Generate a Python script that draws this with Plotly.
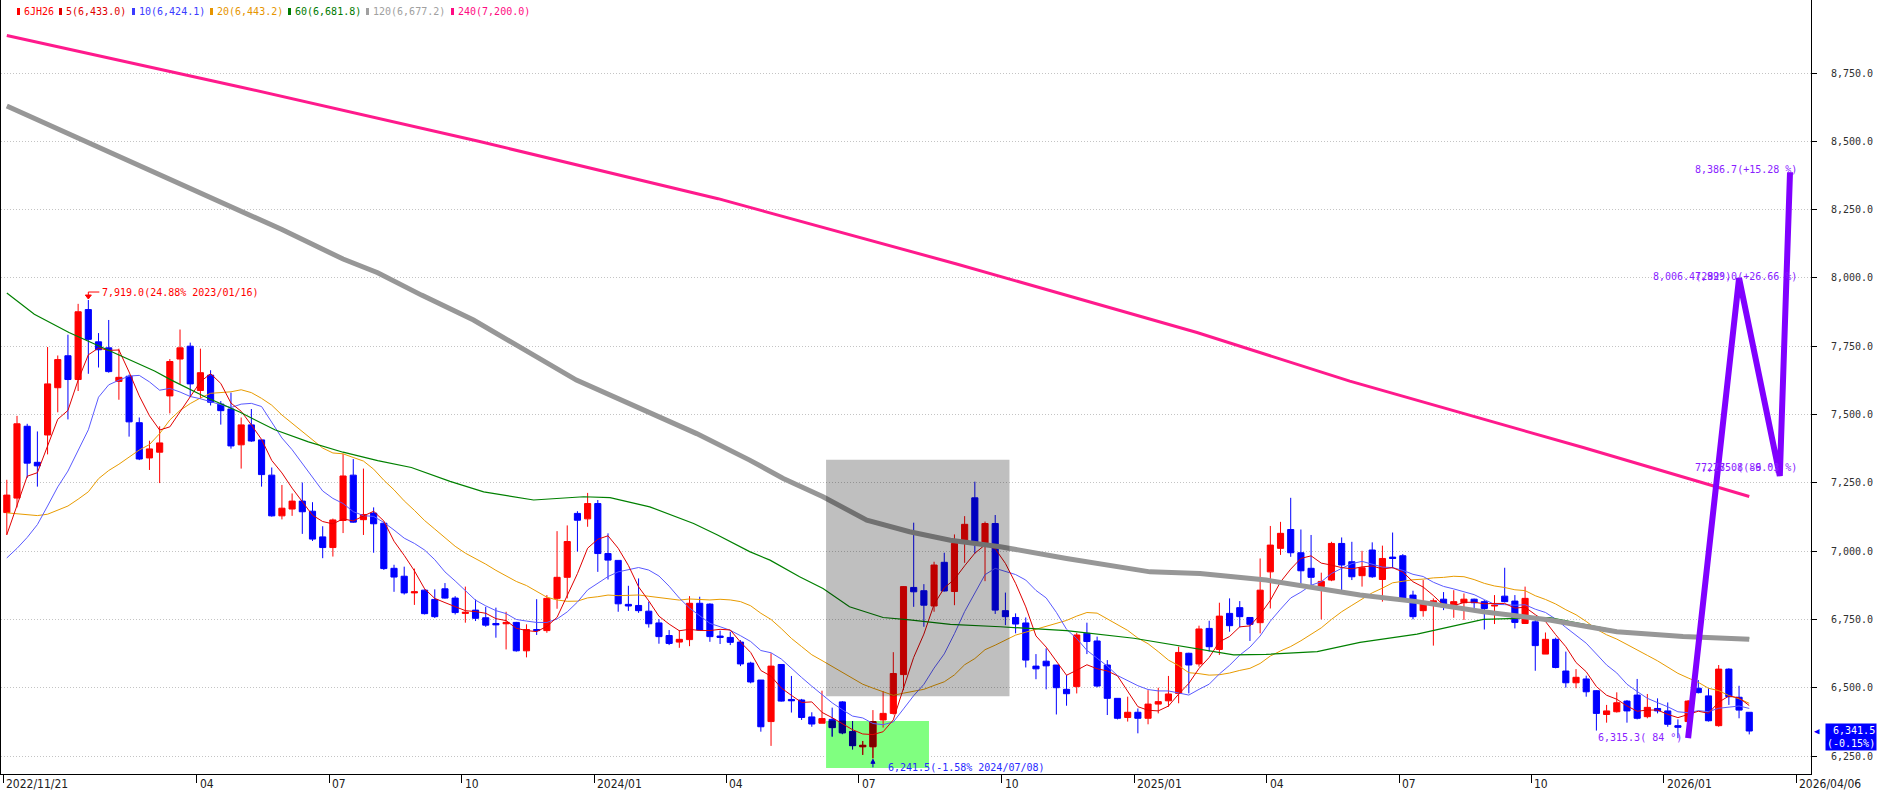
import plotly.graph_objects as go
import pandas as pd

START = pd.Timestamp("2022-11-21")

opens = [7141,7194,7457,7325,7425,7598,7715,7628,7884,7766, 7744,7621,7640,7470,7341,7362,7568,7703,7750,7588,
         7644,7538,7520,7389,7462,7407,7278,7129,7154,7183, 7146,7052,7013,7112,7278,7115,7139,7102,6937,6908,
         6847,6857,6823,6862,6828,6772,6784,6756,6735,6734, 6739,6635,6713,6709,6827,6904,7138,7118,7174,6991,
         6966,6805,6801,6780,6737,6691,6667,6676,6809,6806, 6689,6684,6667,6590,6528,6376,6585,6457,6455,6393,
         6370,6384,6448,6339,6284,6284,6382,6406,6548,6867, 6855,6799,6959,6852,7028,7195,7028,7101,6782,6757,
         6737,6579,6597,6583,6494,6504,6699,6671,6583,6461, 6391,6410,6388,6440,6452,6479,6626,6587,6717,6640,
         6772,6793,6757,6738,6924,7010,7079,6994,6937,6870, 6894,7028,6961,6910,7004,6896,6978,6983,6839,6782,
         6809,6824,6794,6811,6824,6815,6799,6835,6817,6735, 6741,6623,6677,6561,6518,6532,6489,6402,6412,6451,
         6473,6394,6424,6415,6361,6376,6498,6470,6361,6568, 6465,6410]
highs = [7261,7495,7466,7438,7747,7716,7792,7905,7919,7798, 7846,7741,7646,7489,7404,7457,7703,7811,7763,7741,
         7662,7549,7580,7489,7520,7407,7306,7242,7211,7251, 7179,7091,7119,7356,7337,7302,7160,7106,6950,6943,
         6936,6860,6860,6883,6835,6870,6823,6796,6793,6778, 6741,6732,6824,6839,7073,7094,7146,7213,7187,7065,
         6966,6873,6900,6815,6751,6711,6711,6835,6833,6809, 6709,6705,6674,6595,6528,6626,6586,6543,6459,6410,
         6489,6427,6451,6378,6305,6418,6488,6630,6872,7104, 6879,6961,6994,7061,7128,7254,7108,7132,6848,6772,
         6757,6623,6644,6583,6546,6701,6738,6687,6601,6461, 6467,6424,6491,6500,6543,6650,6628,6727,6745,6811,
         6827,6817,6757,6973,7092,7107,7195,7079,7059,6921, 7034,7050,7034,7001,7032,7020,7068,6989,6855,6894,
         6827,6850,6857,6845,6826,6821,6839,6939,6839,6870, 6748,6702,6683,6632,6568,6544,6491,6437,6483,6455,
         6532,6477,6461,6446,6384,6455,6528,6498,6583,6571, 6507,6410]
lows = [7059,7160,7268,7236,7354,7508,7482,7586,7649,7672, 7653,7554,7419,7333,7297,7249,7504,7612,7564,7558,
        7533,7463,7375,7302,7400,7236,7126,7116,7129,7063, 7037,6974,6980,7066,7104,7059,6994,6931,6851,6841,
        6803,6768,6755,6826,6768,6738,6744,6723,6683,6640, 6632,6611,6693,6701,6789,6827,6998,7089,6924,6896,
        6778,6781,6774,6720,6661,6656,6646,6652,6709,6668, 6660,6656,6579,6516,6339,6287,6449,6409,6382,6357,
        6370,6321,6330,6274,6254,6241.5,6354,6402,6491,6796, 6723,6778,6852,6802,6957,6991,6890,6770,6729,6699,
        6574,6531,6494,6402,6434,6479,6623,6501,6400,6384, 6376,6333,6366,6406,6430,6443,6479,6577,6632,6620,
        6705,6721,6671,6699,6790,6986,6979,6879,6870,6750, 6890,6852,6894,6870,6902,6815,6937,6824,6750,6760,
        6654,6784,6756,6748,6781,6713,6733,6812,6717,6733, 6562,6623,6571,6500,6498,6467,6343,6372,6409,6372,
        6384,6388,6406,6357,6315.3,6370,6479,6376,6357,6437, 6388,6329]
closes = [7205,7466,7322,7312,7612,7701,7628,7876,7775,7737, 7657,7636,7473,7337,7374,7396,7694,7744,7612,7653,
          7545,7514,7385,7462,7403,7280,7129,7157,7183,7144, 7044,7013,7114,7275,7106,7134,7100,6936,6905,6847,
          6851,6771,6760,6828,6775,6776,6754,6729,6730,6739, 6635,6713,6709,6827,6904,7035,7113,7174,6991,6967,
          6807,6799,6782,6734,6687,6662,6677,6809,6711,6687, 6684,6666,6587,6521,6357,6579,6451,6452,6391,6367,
          6387,6354,6335,6288,6289,6376,6406,6552,6870,6851, 6802,6949,6854,7028,7098,7032,7101,6784,6760,6733,
          6601,6569,6580,6500,6478,6693,6669,6506,6461,6388, 6410,6388,6440,6449,6477,6629,6583,6715,6650,6762,
          6727,6760,6732,6857,7022,7065,6994,6928,6904,6889, 7028,6949,6906,6939,6906,6973,6973,6827,6760,6809,
          6818,6796,6815,6824,6811,6790,6802,6815,6739,6827, 6654,6677,6574,6518,6538,6485,6406,6415,6445,6415,
          6388,6428,6415,6366,6355,6451,6482,6379,6568,6467, 6418,6341.5]

# moving-average warm-up values (before a full window exists)
ma5_head = [7060, 7167, 7274, 7287]
ma10_head = [6975, 7010, 7050, 7097, 7165, 7235, 7293, 7370, 7444]
ma20_head = [7140, 7136, 7133, 7130, 7135, 7150, 7165, 7190, 7217, 7265, 7295, 7318, 7345, 7370, 7390,
             7430, 7480, 7515, 7540]

# long moving averages (week index, value)
ma60_idx = [0, 2.7, 6.1, 10.4, 14.5, 16.2, 19.5, 22.9, 26.3, 29.6, 33, 36.4, 39.7, 43.5, 46.8, 51.7, 56.6,
            59.2, 63.1, 67.4, 69.7, 72.9, 74.9, 77.8, 80.1, 82.7, 86.0, 88.6, 92.6, 97.5, 104.0, 110.6,
            115.5, 120.4, 123.6, 128.6, 132.8, 138.4, 144.9, 151.4, 158, 164.5, 171]
ma60_val = [7945, 7867, 7800, 7728, 7659, 7625, 7564, 7508, 7444, 7400, 7362, 7331, 7306, 7255, 7217, 7187,
            7199, 7196, 7162, 7101, 7060, 6998, 6967, 6906, 6863, 6796, 6757, 6748, 6732, 6723, 6709, 6681,
            6650, 6620, 6622, 6632, 6666, 6696, 6750, 6757, 6709, 6689, 6681.8]
ma120_idx = [0, 13, 27, 33, 36.4, 40.7, 45.8, 55.9, 63.8, 67.7, 72.9, 76.2, 80.1, 84.4, 88.6, 92.6, 97.5,
             104, 112.2, 117.1, 123.6, 132.8, 138.4, 144.9, 151.4, 158, 164.5, 171]
ma120_val = [8629, 8410, 8177, 8069, 8019, 7937, 7846, 7626, 7498, 7430, 7333, 7266, 7199, 7113, 7071, 7040,
             7016, 6973, 6924, 6918, 6894, 6839, 6815, 6778, 6748, 6705, 6687, 6677.2]
ma240_idx = [0, 22.8, 46.3, 69.8, 93.3, 116.8, 131.8, 154.7, 171]
ma240_val = [8887, 8700, 8500, 8290, 8050, 7800, 7622, 7379, 7200.0]

# purple drawn zig-zag (week index, value)
zz_idx = [165, 170, 174, 175]
zz_val = [6315.3, 7999.0, 7275.1, 8386.7]

tick_dates = ["2022-11-21", "2023-04-03", "2023-07-03", "2023-10-02", "2024-01-01", "2024-04-01",
              "2024-07-01", "2024-10-07", "2025-01-06", "2025-04-07", "2025-07-07", "2025-10-06",
              "2026-01-05", "2026-04-06"]
tick_text = ["2022/11/21", "04", "07", "10", "2024/01", "04", "07", "10", "2025/01", "04", "07", "10",
             "2026/01", "2026/04/06"]
y_ticks = [6250, 6500, 6750, 7000, 7250, 7500, 7750, 8000, 8250, 8500, 8750]

legend_items = [("6JH26", "#FF0000"), ("5(6,433.0)", "#E00000"), ("10(6,424.1)", "#3B3BFF"),
                ("20(6,443.2)", "#E69500"), ("60(6,681.8)", "#007A00"), ("120(6,677.2)", "#A0A0A0"),
                ("240(7,200.0)", "#FF0A82")]
legend_x = [17, 59, 132, 210, 288, 366, 451]

MONO = "DejaVu Sans Mono"


def wk(i):
    return START + pd.Timedelta(days=7 * i)


dates = [wk(i) for i in range(len(closes))]
cs = pd.Series(closes)
ma5 = cs.rolling(5).mean().tolist()
ma10 = cs.rolling(10).mean().tolist()
ma20 = cs.rolling(20).mean().tolist()
ma5[:len(ma5_head)] = ma5_head
ma10[:len(ma10_head)] = ma10_head
ma20[:len(ma20_head)] = ma20_head

fig = go.Figure()

fig.add_trace(go.Candlestick(
    x=dates, open=opens, high=highs, low=lows, close=closes,
    increasing=dict(line=dict(color="#FF0000", width=1), fillcolor="#FF0000"),
    decreasing=dict(line=dict(color="#0000FF", width=1), fillcolor="#0000FF"),
    whiskerwidth=0, showlegend=False, hoverinfo="skip"))

# candles under the green box appear darkened (parts inside the box)
GREEN = dict(i0=80.4, i1=90.5, lo=6206, hi=6378)
dx, do, dh, dl, dc = [], [], [], [], []
for i, (o, h, l, c) in enumerate(zip(opens, highs, lows, closes)):
    if GREEN["i0"] <= i <= GREEN["i1"] and min(o, c) < GREEN["hi"]:
        top = GREEN["hi"]
        dx.append(dates[i]); do.append(min(o, top)); dh.append(min(h, top))
        dl.append(min(l, top)); dc.append(min(c, top))
fig.add_trace(go.Candlestick(
    x=dx, open=do, high=dh, low=dl, close=dc,
    increasing=dict(line=dict(color="#800000", width=1), fillcolor="#800000"),
    decreasing=dict(line=dict(color="#000080", width=1), fillcolor="#000080"),
    whiskerwidth=0, showlegend=False, hoverinfo="skip"))

def line(x, y, color, width):
    fig.add_trace(go.Scatter(x=x, y=y, mode="lines", line=dict(color=color, width=width),
                             showlegend=False, hoverinfo="skip"))

line(dates, ma20, "#E89B00", 1)
line(dates, ma10, "#5A5AFF", 1)
line(dates, ma5, "#E00000", 1)
line([wk(i) for i in ma60_idx], ma60_val, "#008000", 1.2)
line([wk(i) for i in ma120_idx], ma120_val, "#979797", 5)
line([wk(i) for i in ma240_idx], ma240_val, "#FF1A8C", 3)
line([wk(i) for i in zz_idx], zz_val, "#8000FF", 6)

shapes = []
# gray selection box (darkening overlay)
shapes.append(dict(type="rect", xref="x", yref="y", x0=wk(80.4), x1=wk(98.4), y0=6469, y1=7334,
                   fillcolor="rgba(0,0,0,0.25)", line=dict(width=0), layer="above"))
# green box
shapes.append(dict(type="rect", xref="x", yref="y", x0=wk(GREEN["i0"]), x1=wk(GREEN["i1"]),
                   y0=GREEN["lo"], y1=GREEN["hi"], fillcolor="#80FF80", line=dict(width=0),
                   layer="between"))
# high marker arrow
shapes.append(dict(type="path", xref="x", yref="y", xsizemode="pixel", ysizemode="pixel",
                   xanchor=wk(8), yanchor=7919, path="M 0 3 L 0 8 L 11 8",
                   line=dict(color="#FF0000", width=1)))
shapes.append(dict(type="path", xref="x", yref="y", xsizemode="pixel", ysizemode="pixel",
                   xanchor=wk(8), yanchor=7919, path="M -3 5 L 3 5 L 0 1 Z",
                   fillcolor="#FF0000", line=dict(color="#FF0000", width=1)))
# low marker arrow
shapes.append(dict(type="path", xref="x", yref="y", xsizemode="pixel", ysizemode="pixel",
                   xanchor=wk(85), yanchor=6241.5, path="M 0 -4 L 0 -9",
                   line=dict(color="#0000C0", width=1)))
shapes.append(dict(type="path", xref="x", yref="y", xsizemode="pixel", ysizemode="pixel",
                   xanchor=wk(85), yanchor=6241.5, path="M -2 -5 L 2 -5 L 0 -1 Z",
                   fillcolor="#0000C0", line=dict(color="#0000C0", width=1)))
# legend colour chips
for (txt, col), px in zip(legend_items, legend_x):
    shapes.append(dict(type="rect", xref="paper", yref="paper", xsizemode="pixel", ysizemode="pixel",
                       xanchor=0, yanchor=1, x0=px - 1, x1=px + 2, y0=-8, y1=-15,
                       fillcolor=col, line=dict(width=0)))

ann = []
for (txt, col), px in zip(legend_items, legend_x):
    ann.append(dict(xref="paper", yref="paper", x=0, y=1, xshift=px + 4, yshift=-11,
                    xanchor="left", yanchor="middle", text=txt, showarrow=False,
                    font=dict(family=MONO, size=10, color=col)))

TICK_SHIFT_DAYS = -2.6
tick_pos = [pd.Timestamp(d) + pd.Timedelta(days=TICK_SHIFT_DAYS) for d in tick_dates]
for tp, tt in zip(tick_pos, tick_text):
    ann.append(dict(xref="x", yref="paper", x=tp, y=0, xshift=1, yshift=-10, xanchor="left",
                    yanchor="middle", text=tt, showarrow=False,
                    font=dict(family="Liberation Sans Narrow, DejaVu Sans Condensed, " + MONO,
                              size=12, color="#202020")))

ann.append(dict(xref="x", yref="y", x=wk(8), y=7919, xshift=12, yshift=8, xanchor="left",
                yanchor="middle", text="7,919.0(24.88% 2023/01/16)", showarrow=False,
                font=dict(family=MONO, size=10, color="#FF0000")))
ann.append(dict(xref="x", yref="y", x=wk(85), y=6241.5, xshift=13, yshift=-9, xanchor="left",
                yanchor="middle", text="6,241.5(-1.58% 2024/07/08)", showarrow=False,
                font=dict(family=MONO, size=10, color="#2828FF")))

PURPLE = "#8A1EFF"
ann.append(dict(xref="x", yref="y", x=wk(165), y=6315.3, xshift=-4, yshift=1, xanchor="right",
                yanchor="middle", text="6,315.3( 84 °)", showarrow=False,
                font=dict(family=MONO, size=10, color=PURPLE)))
ann.append(dict(xref="x", yref="y", x=wk(170), y=7999.0, xshift=-88, yshift=2, xanchor="left",
                yanchor="middle", text="8,006.4(282°)", showarrow=False,
                font=dict(family=MONO, size=10, color=PURPLE)))
ann.append(dict(xref="x", yref="y", x=wk(175), y=7999.0, xshift=9, yshift=2, xanchor="right",
                yanchor="middle", text="7,999.0(+26.66 %)", showarrow=False,
                font=dict(family=MONO, size=10, color=PURPLE)))
ann.append(dict(xref="x", yref="y", x=wk(174), y=7275.1, xshift=-87, yshift=8, xanchor="left",
                yanchor="middle", text="7,278.0( 86 °)", showarrow=False,
                font=dict(family=MONO, size=10, color=PURPLE)))
ann.append(dict(xref="x", yref="y", x=wk(175), y=7275.1, xshift=9, yshift=8, xanchor="right",
                yanchor="middle", text="7,275.8(-9.03 %)", showarrow=False,
                font=dict(family=MONO, size=10, color=PURPLE)))
ann.append(dict(xref="x", yref="y", x=wk(175), y=8386.7, xshift=9, yshift=3, xanchor="right",
                yanchor="middle", text="8,386.7(+15.28 %)", showarrow=False,
                font=dict(family=MONO, size=10, color=PURPLE)))

# current price marker on the right axis
last = closes[-1]
ann.append(dict(xref="paper", yref="y", x=1, y=last, xshift=1, yshift=0, xanchor="left",
                yanchor="middle", text="◀", showarrow=False,
                font=dict(family=MONO, size=9, color="#0000FF")))
ann.append(dict(xref="paper", yref="y", x=1, y=last, xshift=14, yshift=8, xanchor="left",
                yanchor="top", text="6,341.5<br>(-0.15%)", showarrow=False, align="right",
                bgcolor="#0000FF", borderpad=1,
                font=dict(family=MONO, size=10, color="#FFFFFF")))

fig.update_layout(
    width=1877, height=793,
    margin=dict(l=1, r=66, t=0, b=19),
    paper_bgcolor="white", plot_bgcolor="white",
    showlegend=False, hovermode=False,
    boxgap=0.14,
    shapes=shapes, annotations=ann,
    xaxis=dict(type="date", range=[wk(-0.57), wk(177.06)], rangeslider=dict(visible=False),
               showgrid=False, zeroline=False, showline=True, linecolor="black", linewidth=1,
               mirror=True, tickvals=tick_pos, ticktext=[""] * len(tick_pos), showticklabels=False,
               ticks="outside", ticklen=8, tickcolor="black", tickwidth=1),
    yaxis=dict(side="right", range=[6184.1, 9017.2], tickvals=y_ticks,
               ticktext=[f"{v:,.1f}" for v in y_ticks],
               showgrid=True, gridcolor="#C4C4C4", griddash="1px,2px", gridwidth=1, zeroline=False,
               showline=True, linecolor="black", linewidth=1, mirror=True,
               ticks="outside", ticklen=5, tickcolor="black", ticklabelstandoff=12,
               tickfont=dict(family=MONO, size=10, color="#303030")),
)

fig.write_html("out.html", config={"displayModeBar": False},
               post_script="document.body.style.margin='0px';document.body.style.overflow='hidden';")
